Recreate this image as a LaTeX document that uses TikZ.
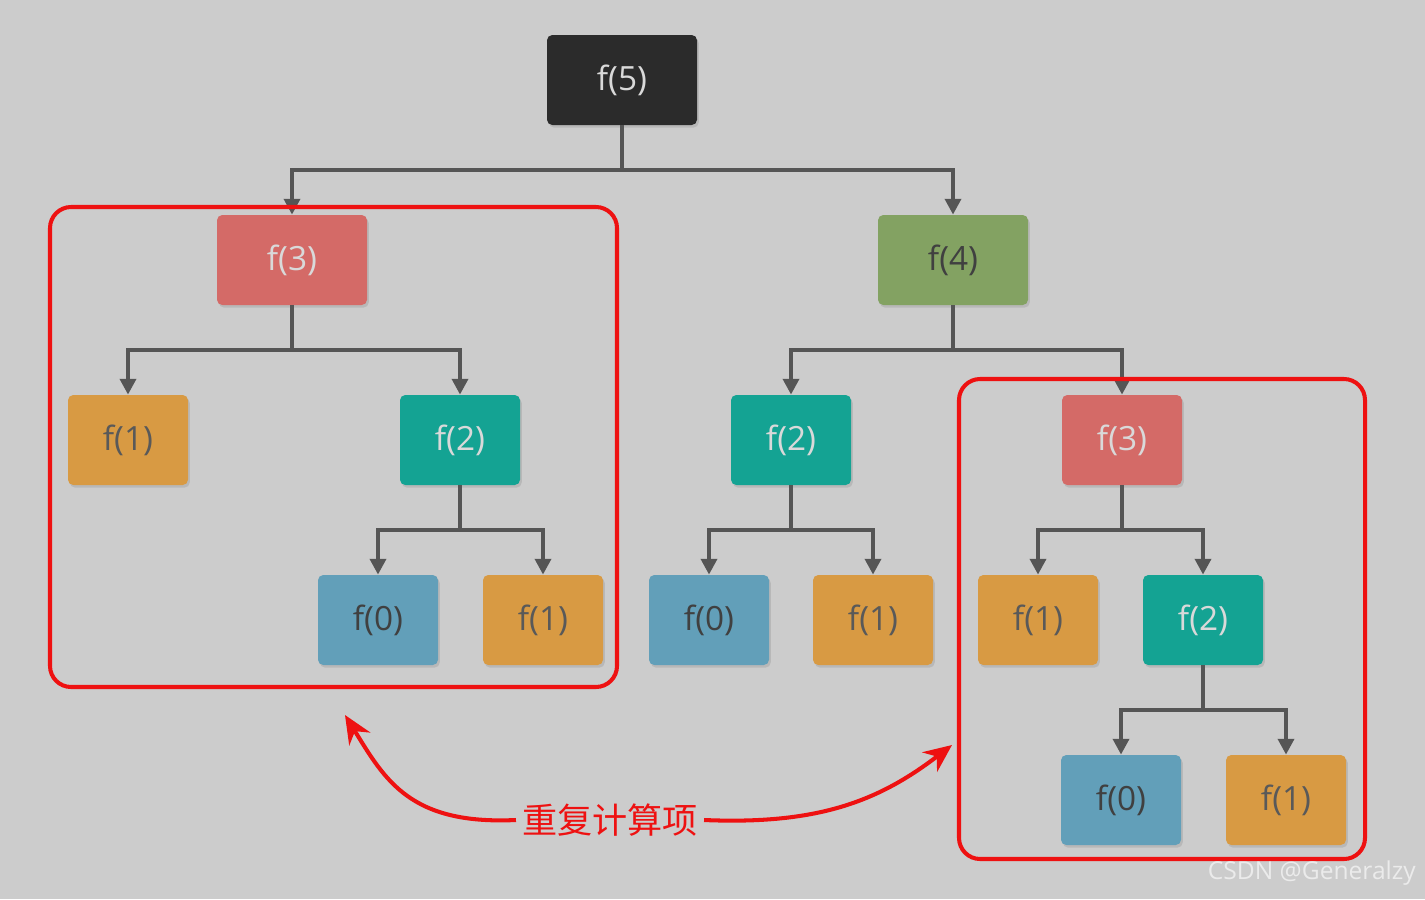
\documentclass[tikz,border=0pt]{standalone}
\usepackage{fontspec}
\setmainfont{Open Sans}
\newfontfamily\cjk{Noto Sans CJK SC}
\usetikzlibrary{arrows.meta,shadows}

\definecolor{bg}{HTML}{CCCCCC}
\definecolor{cBlack}{HTML}{2B2B2B}
\definecolor{cRed}{HTML}{D46A67}
\definecolor{cGreen}{HTML}{83A262}
\definecolor{cOrange}{HTML}{D89A43}
\definecolor{cTeal}{HTML}{14A393}
\definecolor{cBlue}{HTML}{629FB9}
\definecolor{cEdge}{HTML}{555555}
\definecolor{cMark}{HTML}{EE1111}

\tikzset{
	box/.style={rounded corners=3pt, minimum height=90*0.02cm, minimum width=120*0.02cm,
		font=\fontsize{19}{22}\selectfont, drop shadow={opacity=0.25, shadow xshift=1pt, shadow yshift=-1.5pt}},
	wide/.style={box, minimum width=150*0.02cm},
	call/.style={draw=cEdge, line width=2.3pt, -{Triangle[length=9pt,width=9pt]}},
	frame/.style={draw=cMark, line width=2.3pt, rounded corners=12pt},
}

\begin{document}
\begin{tikzpicture}[x=0.02cm, y=-0.02cm]

	\fill[bg] (0,0) rectangle (1425,899);
	\useasboundingbox (0,0) rectangle (1425,899);

	% call tree
	\node[wide, fill=cBlack, text=white!85!black] (f5) at (622,80) {f(5)};
	\node[wide, fill=cRed, text=white!85!black] (f3a) at (292,260) {f(3)};
	\node[wide, fill=cGreen, text=black!75] (f4) at (953,260) {f(4)};

	\node[box, fill=cOrange, text=black!65] (f1a) at (128,440) {f(1)};
	\node[box, fill=cTeal, text=white!85!black] (f2a) at (460,440) {f(2)};
	\node[box, fill=cBlue, text=black!75] (f0a) at (378,620) {f(0)};
	\node[box, fill=cOrange, text=black!65] (f1b) at (543,620) {f(1)};

	\node[box, fill=cTeal, text=white!85!black] (f2b) at (791,440) {f(2)};
	\node[box, fill=cBlue, text=black!75] (f0b) at (709,620) {f(0)};
	\node[box, fill=cOrange, text=black!65] (f1c) at (873,620) {f(1)};

	\node[box, fill=cRed, text=white!85!black] (f3b) at (1122,440) {f(3)};
	\node[box, fill=cOrange, text=black!65] (f1d) at (1038,620) {f(1)};
	\node[box, fill=cTeal, text=white!85!black] (f2c) at (1203,620) {f(2)};
	\node[box, fill=cBlue, text=black!75] (f0c) at (1121,800) {f(0)};
	\node[box, fill=cOrange, text=black!65] (f1e) at (1286,800) {f(1)};

	\foreach \p/\c in {f5/f3a, f5/f4, f3a/f1a, f3a/f2a, f2a/f0a, f2a/f1b,
		f4/f2b, f4/f3b, f2b/f0b, f2b/f1c, f3b/f1d, f3b/f2c, f2c/f0c, f2c/f1e}
	{
		\draw[call] (\p.south) -- ++(0,45) -| (\c.north);
	}

	% repeated parts
	\draw[frame] (50,207) rectangle (617,687);
	\draw[frame] (959,379) rectangle (1365,859);

	\node[text=cMark, font=\cjk\fontsize{20}{22}\selectfont] (rep) at (610,820) {重复计算项};
	\draw[draw=cMark, line width=2.3pt, -{Stealth[length=16pt,width=14pt]}]
		(rep.west) .. controls (410,825) and (385,780) .. (345,715);
	\draw[draw=cMark, line width=2.3pt, -{Stealth[length=16pt,width=14pt]}]
		(rep.east) .. controls (820,825) and (880,800) .. (952,745);

	\node[text=white!92!black, font=\fontsize{14}{16}\selectfont, anchor=east] (wm) at (1422,873) {CSDN @Generalzy};

\end{tikzpicture}
\end{document}
